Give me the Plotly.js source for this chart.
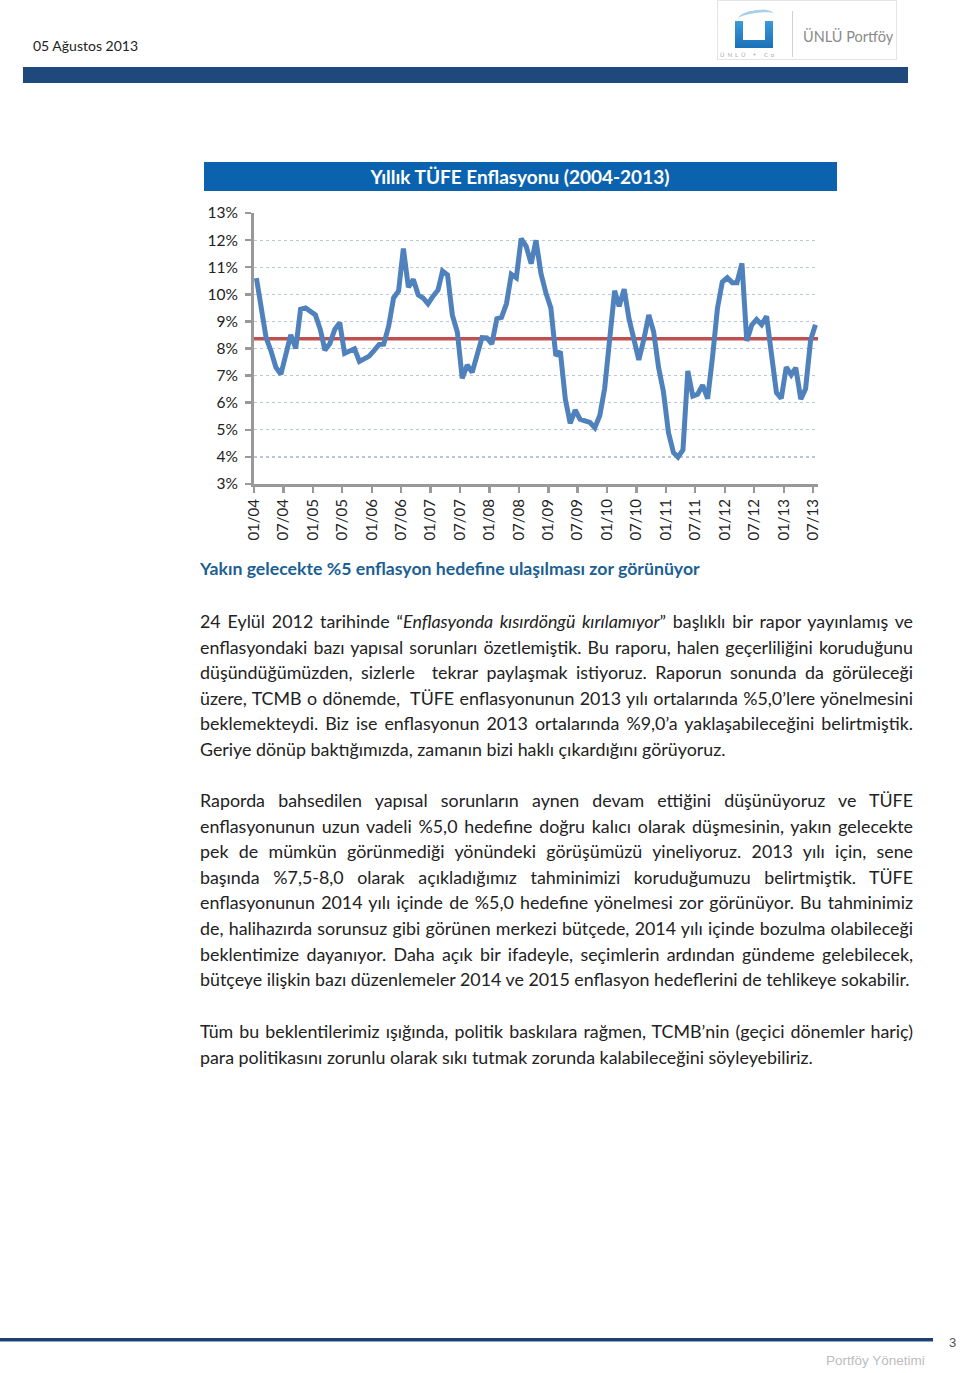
<!DOCTYPE html>
<html>
<head>
<meta charset="utf-8">
<script src="https://cdn.plot.ly/plotly-3.0.1.min.js"></script>
<style>
  html, body { margin:0; padding:0; background:#fff; }
  body { width:960px; height:1373px; position:relative; overflow:hidden; font-family: Lato, "Open Sans", sans-serif; color:#222; }
  .abs { position:absolute; }
  #date { left:33px; top:37px; font-size:14px; color:#222; }
  #topbar { left:23px; top:67px; width:885px; height:16px; background:#1f497d; }
  #logo { left:717px; top:0px; width:180px; height:60px; border:1px solid #e4e4e4; box-sizing:border-box; background:#fff; }
  #chart { left:190px; top:150px; width:660px; height:410px; }
  #heading { left:200px; top:558px; font-size:17.7px; font-weight:bold; color:#1c5f95; white-space:nowrap; }
  .line { position:absolute; left:200px; width:713px; height:25.6px; line-height:25.6px; color:#222; }
  .j { text-align:justify; text-align-last:justify; }
  .l { text-align:left; }
  #footline { left:0; top:1338px; width:933px; height:3px; background:#1f3f6e; border-bottom:1px solid #8fa6c4; }
  #pageno { left:949px; top:1335px; font-family:"Liberation Sans", Arial, sans-serif; font-size:13px; color:#555; }
  #footer { left:826px; top:1353px; font-family:"Liberation Sans", Arial, sans-serif; font-size:13.5px; color:#bdbdbd; }
</style>
</head>
<body>
<div id="date" class="abs">05 Ağustos 2013</div>
<div id="logo" class="abs">
  <div class="abs" style="left:20px;top:9px;width:36px;height:10px;border-top:3px solid #a8cfe8;border-radius:60% 60% 0 0;transform:rotate(-8deg);"></div>
  <div class="abs" style="left:17px;top:20px;width:38px;height:27px;background:linear-gradient(180deg,#3a9ad6,#1a70b8);"></div>
  <div class="abs" style="left:25px;top:20px;width:22px;height:19px;background:#fff;"></div>
  <div class="abs" style="left:2px;top:50px;font-size:6px;letter-spacing:3px;color:#aaa;white-space:nowrap;">ÜNLÜ + Co</div>
  <div class="abs" style="left:74px;top:10px;width:1px;height:46px;background:#d0d0d0;"></div>
  <div class="abs" style="left:85px;top:27px;font-size:14.5px;color:#8a8a8a;white-space:nowrap;">ÜNLÜ Portföy</div>
</div>
<div id="topbar" class="abs"></div>

<div id="chart" class="abs"></div>

<div id="heading" class="abs">Yakın gelecekte %5 enflasyon hedefine ulaşılması zor görünüyor</div>
<div id="text"></div>

<div id="footline" class="abs"></div>
<div id="pageno" class="abs">3</div>
<div id="footer" class="abs">Portföy Yönetimi</div>

<script>
// ---- Data: annual CPI inflation (%), monthly, Jan 2004 - Jul 2013 ----
const values2004 = [10.60, 9.50, 8.40, 7.90, 7.30, 7.05, 7.70, 8.50, 8.00, 9.45, 9.50, 9.35];
const values2005 = [9.24, 8.69, 7.94, 8.18, 8.70, 8.95, 7.82, 7.91, 7.99, 7.52, 7.61, 7.72];
const values2006 = [7.93, 8.15, 8.16, 8.83, 9.86, 10.12, 11.69, 10.26, 10.55, 9.98, 9.86, 9.65];
const values2007 = [9.93, 10.16, 10.86, 10.72, 9.23, 8.60, 6.90, 7.39, 7.12, 7.70, 8.40, 8.39];
const values2008 = [8.17, 9.10, 9.15, 9.66, 10.74, 10.61, 12.06, 11.77, 11.13, 11.99, 10.76, 10.06];
const values2009 = [9.50, 7.73, 7.89, 6.13, 5.24, 5.73, 5.39, 5.33, 5.27, 5.08, 5.53, 6.53];
const values2010 = [8.19, 10.13, 9.56, 10.19, 9.10, 8.37, 7.58, 8.33, 9.24, 8.62, 7.29, 6.40];
const values2011 = [4.90, 4.16, 3.99, 4.26, 7.17, 6.24, 6.31, 6.65, 6.15, 7.66, 9.48, 10.45];
const values2012 = [10.61, 10.43, 10.43, 11.14, 8.28, 8.87, 9.07, 8.88, 9.19, 7.80, 6.37, 6.16];
const values2013 = [7.31, 7.03, 7.29, 6.13, 6.51, 8.30, 8.88];
const years = [2004, 2005, 2006, 2007, 2008, 2009, 2010, 2011, 2012, 2013];
const yearValues = [values2004, values2005, values2006, values2007, values2008, values2009, values2010, values2011, values2012, values2013];

// average level (red line)
const averageLevel = [8.36, 8.36];
const averageDates = ['2004-01-01', '2013-08-01'];

// tick labels (every 6 months)
const tickLabels = ['01/04','07/04','01/05','07/05','01/06','07/06','01/07','07/07','01/08','07/08',
                    '01/09','07/09','01/10','07/10','01/11','07/11','01/12','07/12','01/13','07/13'];
const tickDates = ['2004-01-01','2004-07-01','2005-01-01','2005-07-01','2006-01-01','2006-07-01',
                   '2007-01-01','2007-07-01','2008-01-01','2008-07-01','2009-01-01','2009-07-01',
                   '2010-01-01','2010-07-01','2011-01-01','2011-07-01','2012-01-01','2012-07-01',
                   '2013-01-01','2013-07-01'];
const yTicks = [3,4,5,6,7,8,9,10,11,12,13];
const yTickLabels = ['3%','4%','5%','6%','7%','8%','9%','10%','11%','12%','13%'];

// build series (points placed mid-month, as in a category axis)
const xs = [], ys = [];
years.forEach((yr, i) => {
  yearValues[i].forEach((v, m) => {
    xs.push(yr + '-' + String(m + 1).padStart(2, '0') + '-16');
    ys.push(v);
  });
});

const W = 660, H = 410, ML = 64, MR = 32, MT = 63, MB = 76;
const pw = W - ML - MR, ph = H - MT - MB;
const px = v => (v - (190 + ML)) / pw;   // page px -> paper x
const py = v => ((150 + MT + ph) - v) / ph; // page px -> paper y

const traces = [
  { x: averageDates, y: averageLevel, mode: 'lines', line: { color: '#c0504d', width: 3.5 }, hoverinfo: 'skip' },
  { x: xs, y: ys, mode: 'lines', line: { color: '#4f81bd', width: 5, shape: 'linear' } }
];

const fontFam = 'Lato, "Open Sans", sans-serif';
const layout = {
  width: W, height: H,
  margin: { l: ML, r: MR, t: MT, b: MB },
  paper_bgcolor: 'rgba(0,0,0,0)', plot_bgcolor: 'rgba(0,0,0,0)',
  showlegend: false,
  font: { family: fontFam, color: '#222', size: 15 },
  title: {
    text: 'Yıllık TÜFE Enflasyonu (2004-2013)',
    font: { family: fontFam, color: '#ffffff', size: 19, weight: 'bold' },
    xref: 'paper', x: px(520), xanchor: 'center',
    yref: 'container', y: 1 - (177 - 150) / H, yanchor: 'middle'
  },
  shapes: [
    { type: 'rect', xref: 'paper', yref: 'paper', x0: px(204), x1: px(837), y0: py(191), y1: py(162),
      fillcolor: '#0b63b0', line: { width: 0 }, layer: 'below' }
  ],
  xaxis: {
    type: 'date', range: ['2004-01-01', '2013-08-01'],
    tickmode: 'array', tickvals: tickDates, ticktext: tickLabels, tickangle: -90,
    showgrid: false, zeroline: false,
    showline: true, linecolor: '#999', linewidth: 3,
    ticks: 'outside', ticklen: 6, tickwidth: 2.5, tickcolor: '#999',
    tickfont: { family: fontFam, size: 15, color: '#222' }
  },
  yaxis: {
    range: [3, 13], tickmode: 'array', tickvals: yTicks, ticktext: yTickLabels,
    showgrid: true, gridcolor: '#b8c8da', griddash: 'dot', gridwidth: 1.2,
    zeroline: false,
    showline: true, linecolor: '#999', linewidth: 3,
    ticks: 'outside', ticklen: 6, tickwidth: 2.5, tickcolor: '#999',
    ticklabelstandoff: 4,
    tickfont: { family: fontFam, size: 15.5, color: '#222' }
  }
};
Plotly.newPlot('chart', traces, layout, { staticPlot: true, displayModeBar: false });

// ---- Body text, line by line as in the document ----
const para1 = [
  ['j', '24 Eylül 2012 tarihinde “<i>Enflasyonda kısırdöngü kırılamıyor</i>” başlıklı bir rapor yayınlamış ve'],
  ['j', 'enflasyondaki bazı yapısal sorunları özetlemiştik. Bu raporu, halen geçerliliğini koruduğunu'],
  ['j', 'düşündüğümüzden, sizlerle&nbsp; tekrar paylaşmak istiyoruz. Raporun sonunda da görüleceği'],
  ['j', 'üzere, TCMB o dönemde,&nbsp; TÜFE enflasyonunun 2013 yılı ortalarında %5,0’lere yönelmesini'],
  ['j', 'beklemekteydi. Biz ise enflasyonun 2013 ortalarında %9,0’a yaklaşabileceğini belirtmiştik.'],
  ['l', 'Geriye dönüp baktığımızda, zamanın bizi haklı çıkardığını görüyoruz.']
];
const para2 = [
  ['j', 'Raporda bahsedilen yapısal sorunların aynen devam ettiğini düşünüyoruz ve TÜFE'],
  ['j', 'enflasyonunun uzun vadeli %5,0 hedefine doğru kalıcı olarak düşmesinin, yakın gelecekte'],
  ['j', 'pek de mümkün görünmediği yönündeki görüşümüzü yineliyoruz. 2013 yılı için, sene'],
  ['j', 'başında %7,5-8,0 olarak açıkladığımız tahminimizi koruduğumuzu belirtmiştik. TÜFE'],
  ['j', 'enflasyonunun 2014 yılı içinde de %5,0 hedefine yönelmesi zor görünüyor. Bu tahminimiz'],
  ['j', 'de, halihazırda sorunsuz gibi görünen merkezi bütçede, 2014 yılı içinde bozulma olabileceği'],
  ['j', 'beklentimize dayanıyor. Daha açık bir ifadeyle, seçimlerin ardından gündeme gelebilecek,'],
  ['l', 'bütçeye ilişkin bazı düzenlemeler 2014 ve 2015 enflasyon hedeflerini de tehlikeye sokabilir.']
];
const para3 = [
  ['j', 'Tüm bu beklentilerimiz ışığında, politik baskılara rağmen, TCMB’nin (geçici dönemler hariç)'],
  ['l', 'para politikasını zorunlu olarak sıkı tutmak zorunda kalabileceğini söyleyebiliriz.']
];
const paraTops = [609, 788, 1019];
const lineStep = 25.6;
const textBox = document.getElementById('text');

// choose font size so the last line of para 3 matches its width in the document (~613px)
const probe = document.createElement('span');
probe.style.cssText = 'position:absolute;visibility:hidden;white-space:nowrap;font-size:16px;';
probe.innerHTML = para3[1][1];
document.body.appendChild(probe);
let fs = 16 * 613 / probe.getBoundingClientRect().width;
// make sure all justified lines still fit in one line
[para1, para2, para3].forEach(p => p.forEach(([k, t]) => {
  probe.style.fontSize = fs + 'px';
  probe.innerHTML = t;
  const w = probe.getBoundingClientRect().width;
  if (w > 710) fs = fs * 710 / w;
}));
probe.remove();

[para1, para2, para3].forEach((p, pi) => {
  p.forEach(([k, t], li) => {
    const d = document.createElement('div');
    d.className = 'line ' + k;
    d.style.top = (paraTops[pi] + li * lineStep) + 'px';
    d.style.fontSize = fs + 'px';
    d.innerHTML = t;
    textBox.appendChild(d);
  });
});
</script>
</body>
</html>
